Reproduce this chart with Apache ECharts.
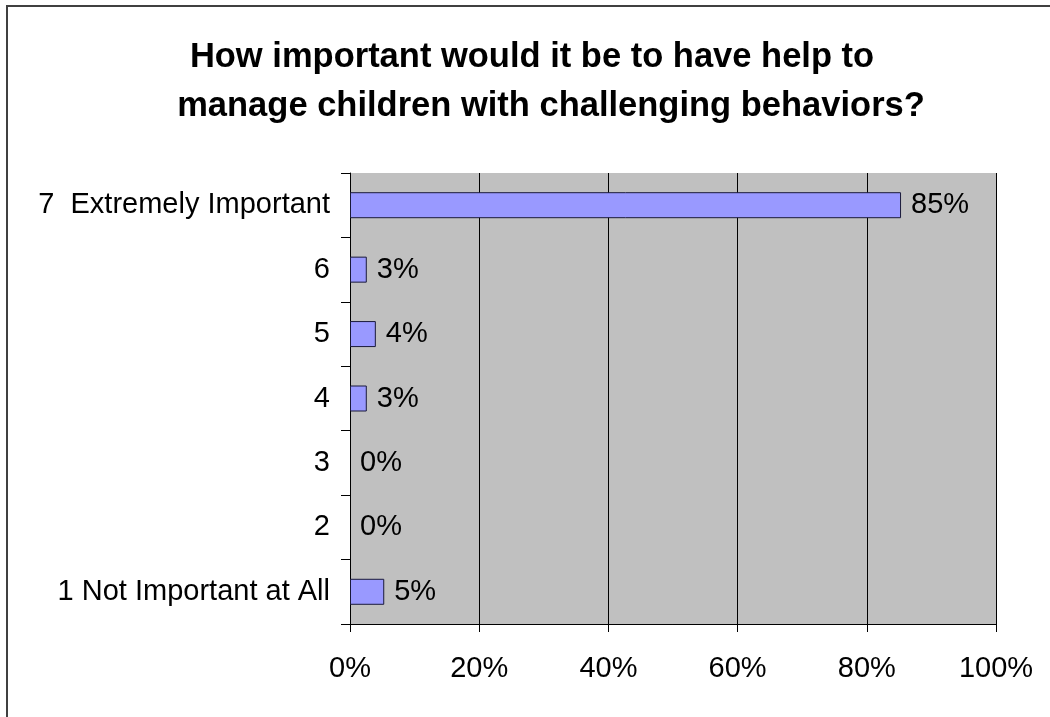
<!DOCTYPE html>
<html><head><meta charset="utf-8">
<script src="https://cdn.jsdelivr.net/npm/echarts@6/dist/echarts.min.js"></script>
<style>html,body{margin:0;padding:0;background:#fff}#c{width:1050px;height:717px}</style>
</head><body><div id="c"></div>
<script>
const categories = ['1 Not Important at All','2','3','4','5','6','7  Extremely Important'];
const values = [5.3, 0, 0, 2.6, 4.0, 2.6, 85.3];
const xTicks = [0, 20, 40, 60, 80, 100];
const titleLines = ['How important would it be to have help to', 'manage children with challenging behaviors?'];

const chart = echarts.init(document.getElementById('c'), null, {renderer: 'canvas'});
const font = 'Liberation Sans, Arial, sans-serif';
const barData = values.map(v => v === 0 ? {value: v, itemStyle: {borderWidth: 0}} : v);
chart.setOption({
  animation: false,
  backgroundColor: '#fff',
  title: [
    {text: titleLines[0], left: 527, top: 35, textAlign: 'center',
     textStyle: {fontFamily: font, fontSize: 34.5, fontWeight: 'bold', color: '#000'}},
    {text: titleLines[1], left: 546, top: 84, textAlign: 'center',
     textStyle: {fontFamily: font, fontSize: 34.5, fontWeight: 'bold', color: '#000'}}
  ],
  graphic: [{type: 'rect', shape: {x: 7, y: 6, width: 1100, height: 800},
    style: {fill: 'none', stroke: '#404040', lineWidth: 2}, silent: true}],
  grid: {left: 350, top: 173, width: 646, height: 451, containLabel: false,
    show: true, backgroundColor: '#C0C0C0', borderWidth: 0},
  xAxis: {type: 'value', min: 0, max: 100, interval: 20,
    axisLine: {show: true, lineStyle: {color: '#000', width: 1}},
    axisTick: {show: true, length: 8, lineStyle: {color: '#000'}},
    axisLabel: {formatter: v => v + '%', fontFamily: font, fontSize: 29, color: '#000', margin: 30},
    splitLine: {show: true, lineStyle: {color: '#000', width: 1}}},
  yAxis: {type: 'category', data: categories,
    axisLine: {show: true, lineStyle: {color: '#000', width: 1}},
    axisTick: {show: true, length: 9, lineStyle: {color: '#000'}},
    axisLabel: {fontFamily: font, fontSize: 29, color: '#000', margin: 20}},
  series: [{type: 'bar', data: barData, barWidth: 26,
    itemStyle: {color: '#9999FF', borderColor: '#1a1a3a', borderWidth: 1},
    label: {show: true, position: 'right', distance: 10, formatter: p => Math.round(p.value) + '%',
      fontFamily: font, fontSize: 29, color: '#000'}}]
});
</script></body></html>
